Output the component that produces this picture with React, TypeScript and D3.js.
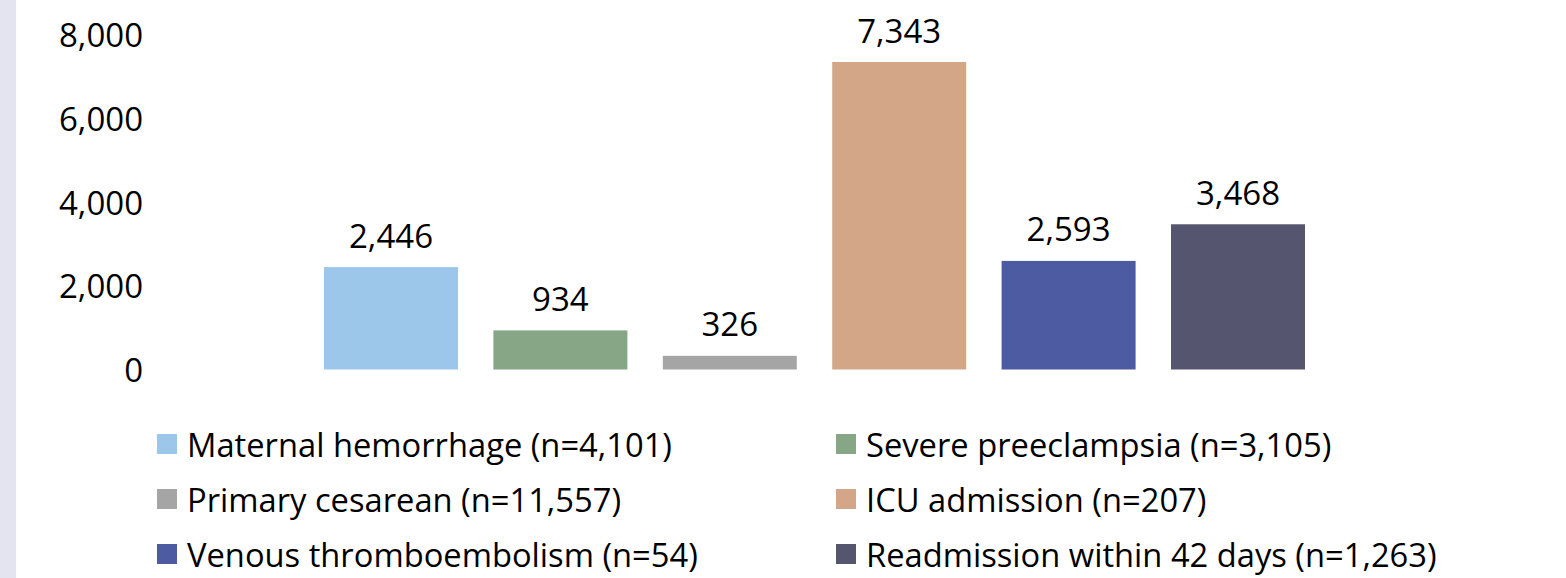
import React from "react";
import * as d3 from "d3";

const seriesNames = [
  "Maternal hemorrhage (n=4,101)",
  "Severe preeclampsia (n=3,105)",
  "Primary cesarean (n=11,557)",
  "ICU admission (n=207)",
  "Venous thromboembolism (n=54)",
  "Readmission within 42 days (n=1,263)",
];
const seriesValues = [2446, 934, 326, 7343, 2593, 3468];
const seriesColors = ["#9DC7EA", "#86A685", "#A5A5A5", "#D4A688", "#4D5BA2", "#56556F"];
const yTicks = [0, 2000, 4000, 6000, 8000];

const W = 1566;
const H = 578;
const FONT = "'Open Sans', 'Noto Sans', sans-serif";

export default function App() {
  const x = d3
    .scaleBand<string>()
    .domain(seriesNames)
    .range([324, 1305])
    .paddingInner(0.209)
    .paddingOuter(0);
  const y = d3.scaleLinear().domain([0, 8000]).range([369.5, 34.5]);
  const fmt = d3.format(",");

  const legendCols = [157, 836];
  const legendRows = [444, 499, 554];

  return (
    <svg
      width={W}
      height={H}
      style={{ position: "absolute", left: 0, top: 0, background: "#fff" }}
      fontFamily={FONT}
    >
      <rect x={0} y={0} width={W} height={H} fill="#fff" />
      <rect x={0} y={0} width={16} height={H} fill="#E3E4F0" />
      {yTicks.map((t) => (
        <text
          key={t}
          x={143}
          y={y(t)}
          textAnchor="end"
          dominantBaseline="central"
          fontSize={33}
          fill="#000"
        >
          {fmt(t)}
        </text>
      ))}
      {seriesNames.map((s, i) => {
        const v = seriesValues[i];
        const bx = x(s)!;
        return (
          <g key={s}>
            <rect
              x={bx}
              y={y(v)}
              width={x.bandwidth()}
              height={y(0) - y(v)}
              fill={seriesColors[i]}
            />
            <text
              x={bx + x.bandwidth() / 2}
              y={y(v) - 32}
              textAnchor="middle"
              dominantBaseline="central"
              fontSize={33}
              fill="#000"
            >
              {fmt(v)}
            </text>
          </g>
        );
      })}
      {seriesNames.map((s, i) => {
        const col = i % 2;
        const row = Math.floor(i / 2);
        const lx = legendCols[col];
        const ly = legendRows[row];
        return (
          <g key={"lg" + s}>
            <rect x={lx} y={ly - 10} width={20} height={20} fill={seriesColors[i]} />
            <text
              x={lx + 30}
              y={ly}
              dominantBaseline="central"
              fontSize={32.7}
              fill="#000"
            >
              {s}
            </text>
          </g>
        );
      })}
    </svg>
  );
}
